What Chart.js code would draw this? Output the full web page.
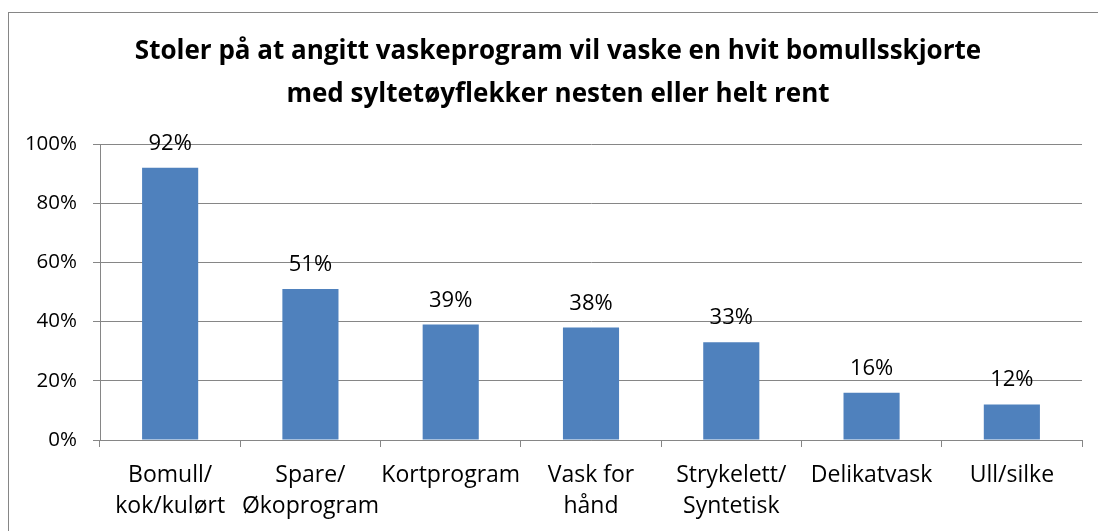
<!DOCTYPE html>
<html>
<head>
<meta charset="utf-8">
<script src="https://cdn.jsdelivr.net/npm/chart.js@4"></script>
<style>
  body { margin: 0; background: #fff; }
  #wrap { position: relative; width: 1098px; height: 531px; }
</style>
</head>
<body>
<div id="wrap"><canvas id="myChart"></canvas></div>
<script>
var categories = [["Bomull/", "kok/kulørt"], ["Spare/", "Økoprogram"], "Kortprogram", ["Vask for", "hånd"], ["Strykelett/", "Syntetisk"], "Delikatvask", "Ull/silke"];
var values = [92, 51, 39, 38, 33, 16, 12];
var titleLines = ["Stoler på at angitt vaskeprogram vil vaske en hvit bomullsskjorte", "med syltetøyflekker nesten eller helt rent"];

var fontFamily = "'Open Sans', sans-serif";

// frame, title (centred on the frame, not the plot) and value labels over bars
var extras = {
  id: 'extras',
  beforeDraw: function(chart) {
    var c = chart.ctx;
    c.save();
    c.strokeStyle = '#868686';
    c.lineWidth = 1;
    c.strokeRect(8.5, 12.5, 1200, 600);
    c.fillStyle = '#000';
    c.font = 'bold 26px ' + fontFamily;
    c.textAlign = 'center';
    c.textBaseline = 'middle';
    titleLines.forEach(function(t, i) {
      c.fillText(t, 558, 52 + i * 43);
    });
    c.restore();
  },
  afterDatasetsDraw: function(chart) {
    var c = chart.ctx;
    var meta = chart.getDatasetMeta(0);
    c.save();
    c.font = '22px ' + fontFamily;
    c.fillStyle = '#000';
    c.textAlign = 'center';
    c.textBaseline = 'alphabetic';
    meta.data.forEach(function(bar, i) {
      c.fillText(values[i] + '%', bar.x, bar.y - 18);
    });
    c.restore();
  }
};

var ctx = document.getElementById("myChart").getContext('2d');
var myChart = new Chart(ctx, {
  type: 'bar',
  data: {
    labels: categories,
    datasets: [{
      data: values,
      backgroundColor: '#4F81BD',
      borderWidth: 0,
      barPercentage: 0.4,
      categoryPercentage: 1
    }]
  },
  options: {
    responsive: true,
    maintainAspectRatio: false,
    animation: false,
    layout: { padding: { left: 10, right: 16, top: 144, bottom: 0 } },
    plugins: {
      legend: { display: false },
      tooltip: { enabled: false },
      title: { display: false }
    },
    scales: {
      y: {
        min: 0,
        max: 100,
        afterFit: function(scale) { scale.width = 90; },
        ticks: {
          stepSize: 20,
          color: '#000',
          padding: 16,
          font: { family: fontFamily, size: 20.5 },
          callback: function(v) { return v + '%'; }
        },
        grid: { color: '#868686', tickLength: 7, drawTicks: true },
        border: { color: '#868686' }
      },
      x: {
        afterFit: function(scale) { scale.height = 91; },
        ticks: {
          color: '#000',
          padding: 13,
          maxRotation: 0,
          autoSkip: false,
          font: { family: fontFamily, size: 23, lineHeight: 1.35 }
        },
        grid: { offset: true, drawOnChartArea: false, color: '#868686', tickLength: 7 },
        border: { color: '#868686' }
      }
    }
  },
  plugins: [extras]
});
</script>
</body>
</html>
